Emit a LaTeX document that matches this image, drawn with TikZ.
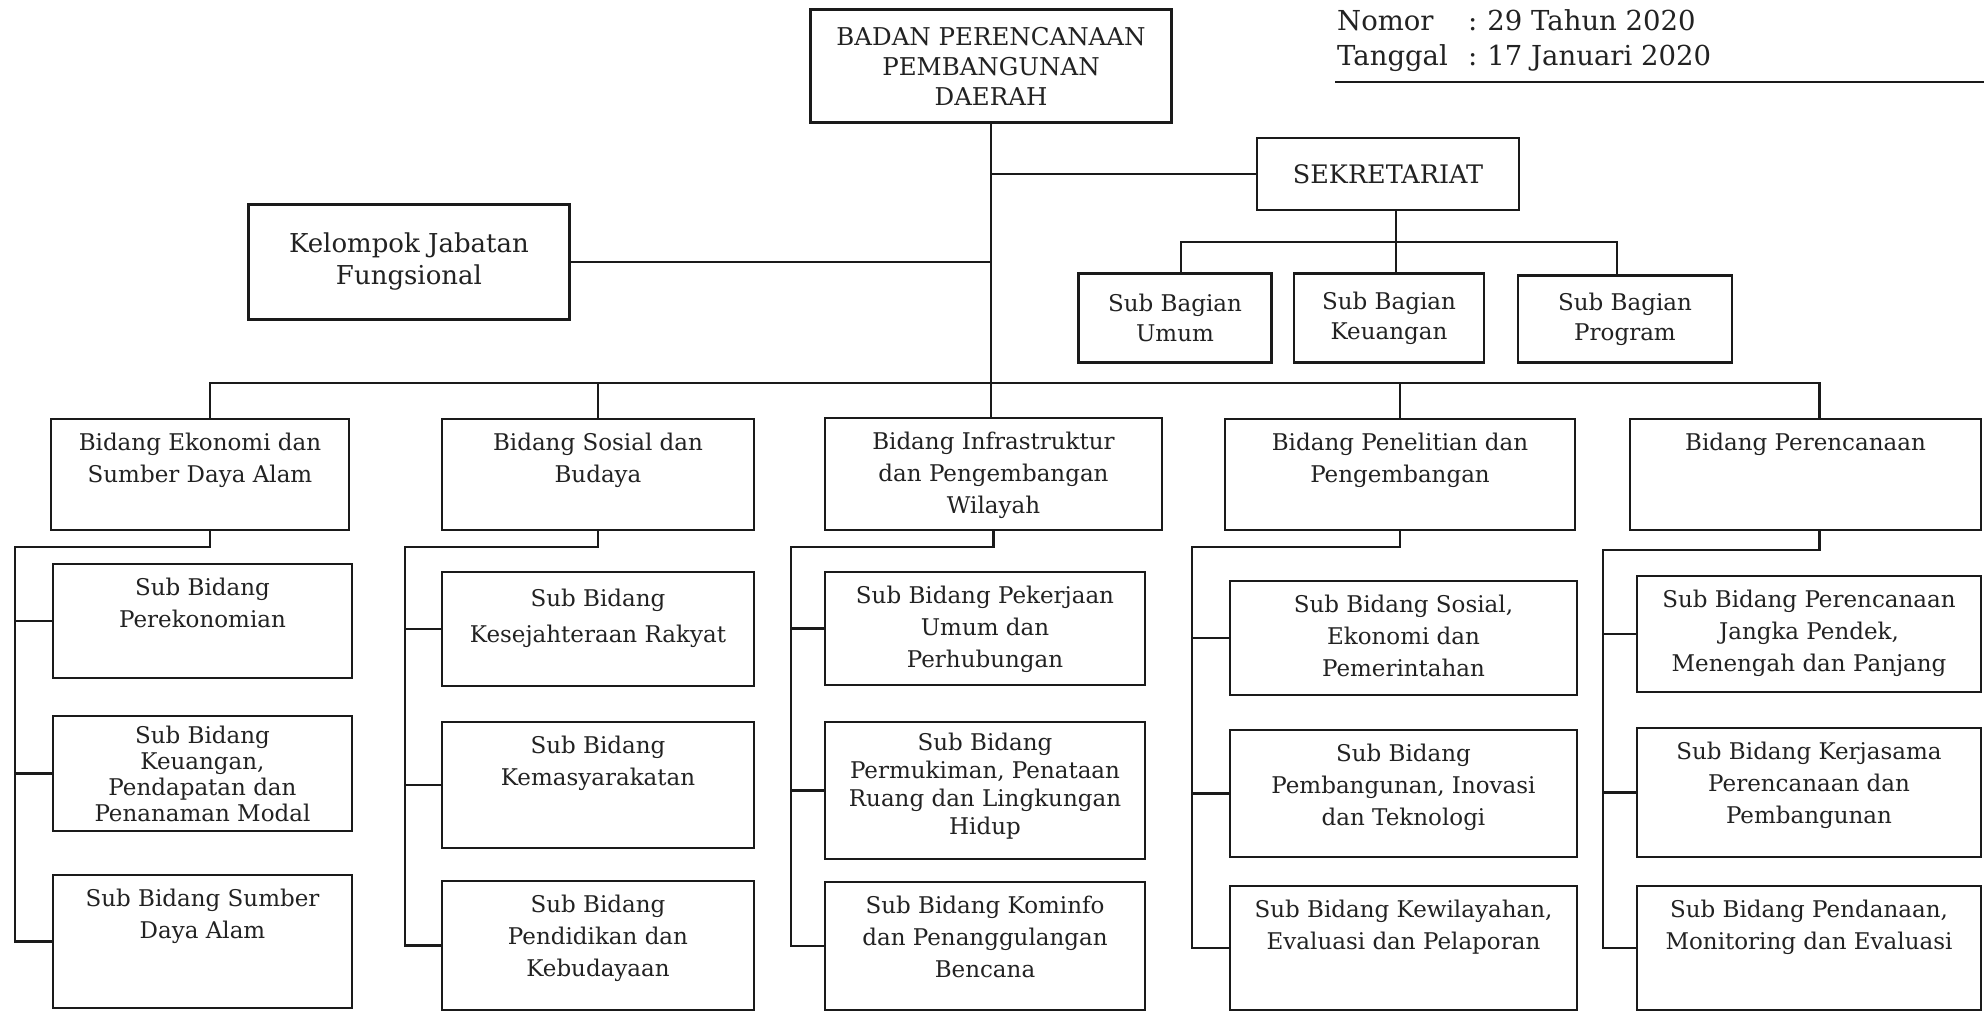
\documentclass[tikz,border=0pt]{standalone}
\usepackage{fontspec}
\setmainfont{DejaVu Serif}
\usetikzlibrary{calc}
\definecolor{orgLine}{HTML}{1A1A1A}
\definecolor{orgText}{HTML}{222222}
% text that starts at the top of a fixed-size box
\newcommand{\toptext}[4][32]{\parbox[c][#3pt][t]{#2pt}{\fontsize{23}{#1}\selectfont\centering\vspace*{9pt}\strut #4}}

\begin{document}
\begin{tikzpicture}[
      x=1pt, y=-1pt,
      frame/.style={draw=orgLine,line width=2.4pt,fill=white,text=orgText,inner sep=0pt},
      unit/.style={frame,align=center,font=\fontsize{23}{30}\selectfont},
      link/.style={draw=orgLine,line width=2.2pt},
      hdr/.style={text=orgText,font=\fontsize{27.5}{30}\selectfont,inner sep=0pt,anchor=base west}
    ]
    \useasboundingbox (0,0) rectangle (1984,1012);
    \clip (0,0) rectangle (1984,1012);
    \fill[white] (0,0) rectangle (1984,1012);

    % header
    \node[hdr] (nomor)      at (1337,30) {Nomor};
    \node[hdr] (nomorval)   at (1468,30) {:\hspace{10pt}29 Tahun 2020};
    \node[hdr] (tanggal)    at (1337,65) {Tanggal};
    \node[hdr] (tanggalval) at (1468,65) {:\hspace{10pt}17 Januari 2020};
    \draw[draw=orgLine,line width=2.5pt] (1335,82) -- (1984,82);

    \node[unit,minimum width=361,minimum height=113,font=\fontsize{24.5}{30}\selectfont] (badan) at (991,66) {BADAN PERENCANAAN\\PEMBANGUNAN\\DAERAH};
    \node[unit,minimum width=262,minimum height=72,font=\fontsize{25.5}{30}\selectfont]  (sek)   at (1388,174) {SEKRETARIAT};
    \node[unit,minimum width=321,minimum height=115,font=\fontsize{26}{32}\selectfont] (kel)   at (409,262) {Kelompok Jabatan\\Fungsional};

    \node[unit,minimum width=193,minimum height=89] (umum) at (1175,318) {Sub Bagian\\Umum};
    \node[unit,minimum width=190,minimum height=89] (keu)  at (1389,318) {Sub Bagian\\Keuangan};
    \node[unit,minimum width=214,minimum height=87] (prog) at (1625,319) {Sub Bagian\\Program};

    % bidang
    \node[frame] (ekon)  at (200,474.5)  {\toptext{298}{111}{Bidang Ekonomi dan\\Sumber Daya Alam}};
    \node[frame] (sos)   at (598,474.5)  {\toptext{312}{111}{Bidang Sosial dan\\Budaya}};
    \node[frame] (infra) at (993.5,474)  {\toptext{337}{112}{Bidang Infrastruktur\\dan Pengembangan\\Wilayah}};
    \node[frame] (riset) at (1400,474.5) {\toptext{350}{111}{Bidang Penelitian dan\\Pengembangan}};
    \node[frame] (plan)  at (1805.5,474.5) {\toptext{351}{111}{Bidang Perencanaan}};

    % sub bidang
    \node[frame] (ekon1) at (202.5,621)   {\toptext{299}{114}{Sub Bidang\\Perekonomian}};
    \node[frame] (ekon2) at (202.5,773.5) {\toptext[26]{299}{115}{Sub Bidang\\Keuangan,\\Pendapatan dan\\Penanaman Modal}};
    \node[frame] (ekon3) at (202.5,941.5) {\toptext{299}{133}{Sub Bidang Sumber\\Daya Alam}};

    \node[frame] (sos1) at (598,629)   {\toptext[36]{312}{114}{Sub Bidang\\Kesejahteraan Rakyat}};
    \node[frame] (sos2) at (598,785)   {\toptext{312}{126}{Sub Bidang\\Kemasyarakatan}};
    \node[frame] (sos3) at (598,945.5) {\toptext{312}{129}{Sub Bidang\\Pendidikan dan\\Kebudayaan}};

    \node[frame] (infra1) at (985,628.5) {\toptext{320}{113}{Sub Bidang Pekerjaan\\Umum dan\\Perhubungan}};
    \node[frame] (infra2) at (985,790.5) {\toptext[28]{320}{137}{Sub Bidang\\Permukiman, Penataan\\Ruang dan Lingkungan\\Hidup}};
    \node[frame] (infra3) at (985,946)   {\toptext{320}{128}{Sub Bidang Kominfo\\dan Penanggulangan\\Bencana}};

    \node[frame] (riset1) at (1403.5,638)   {\toptext{347}{114}{Sub Bidang Sosial,\\Ekonomi dan\\Pemerintahan}};
    \node[frame] (riset2) at (1403.5,793.5) {\toptext{347}{127}{Sub Bidang\\Pembangunan, Inovasi\\dan Teknologi}};
    \node[frame] (riset3) at (1403.5,948)   {\toptext{347}{124}{Sub Bidang Kewilayahan,\\Evaluasi dan Pelaporan}};

    \node[frame] (plan1) at (1809,634)   {\toptext{344}{116}{Sub Bidang Perencanaan\\Jangka Pendek,\\Menengah dan Panjang}};
    \node[frame] (plan2) at (1809,792.5) {\toptext{344}{129}{Sub Bidang Kerjasama\\Perencanaan dan\\Pembangunan}};
    \node[frame] (plan3) at (1809,948)   {\toptext{344}{124}{Sub Bidang Pendanaan,\\Monitoring dan Evaluasi}};

    % main line and bus
    \coordinate (bus) at (993,383);
    \coordinate (ekonT) at ($(ekon.north)+(10,0)$);
    \coordinate (planT) at ($(plan.north)+(14,0)$);
    \draw[link] (badan.south) -- (badan.south |- infra.north);
    \draw[link] (ekonT) |- (bus) -| (planT);
    \draw[link] (sos.north) -- (sos.north |- bus);
    \draw[link] (riset.north) -- (riset.north |- bus);
    \draw[link] (kel.east) -- (kel.east -| badan.south);
    \draw[link] (sek.west -| badan.south) -- (sek.west);

    % sekretariat
    \coordinate (sekB) at ($(sek.south)+(8,0)$);
    \coordinate (sekbus) at ($(sekB)!0.5!(sekB |- keu.north)$);
    \draw[link] (sekB) -- (sekB |- keu.north);
    \draw[link] ($(umum.north)+(6,0)$) |- (sekbus) -| ($(prog.north)+(-8,0)$);

    % sub bidang brackets
    \coordinate (ekonS) at (15,547);
    \draw[link] ($(ekon.south)+(10,0)$) |- (ekonS) |- (ekon3.west);
    \draw[link] (ekon1.west -| ekonS) -- (ekon1.west);
    \draw[link] (ekon2.west -| ekonS) -- (ekon2.west);

    \coordinate (sosS) at (405,547);
    \draw[link] (sos.south) |- (sosS) |- (sos3.west);
    \draw[link] (sos1.west -| sosS) -- (sos1.west);
    \draw[link] (sos2.west -| sosS) -- (sos2.west);

    \coordinate (infraS) at (791,547);
    \draw[link] (infra.south) |- (infraS) |- (infra3.west);
    \draw[link] (infra1.west -| infraS) -- (infra1.west);
    \draw[link] (infra2.west -| infraS) -- (infra2.west);

    \coordinate (risetS) at (1192,547);
    \draw[link] (riset.south) |- (risetS) |- (riset3.west);
    \draw[link] (riset1.west -| risetS) -- (riset1.west);
    \draw[link] (riset2.west -| risetS) -- (riset2.west);

    \coordinate (planS) at (1603,550);
    \draw[link] ($(plan.south)+(14,0)$) |- (planS) |- (plan3.west);
    \draw[link] (plan1.west -| planS) -- (plan1.west);
    \draw[link] (plan2.west -| planS) -- (plan2.west);
\end{tikzpicture}
\end{document}
